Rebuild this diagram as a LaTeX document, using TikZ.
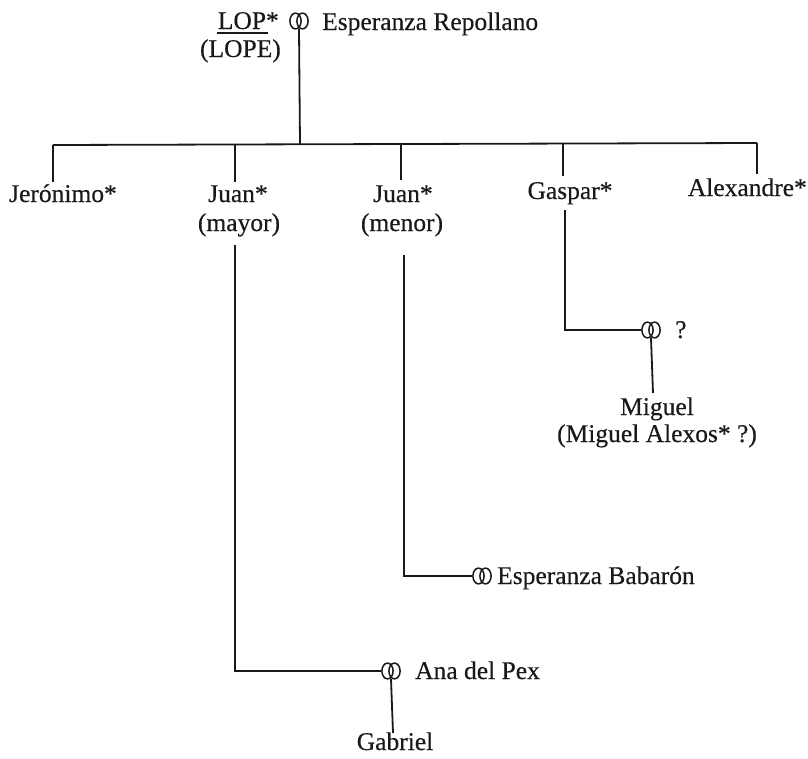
\documentclass[tikz,border=0pt]{standalone}
\usepackage{fontspec}
\setmainfont[FakeBold=0.4]{Liberation Serif}
\definecolor{ink}{gray}{0.1}
\tikzset{
  lbl/.style={inner sep=0pt, text=ink, font=\fontsize{25.5}{30}\selectfont},
  link/.style={line width=1.8pt, draw=ink},
  ringnode/.style={inner sep=0pt, minimum width=19pt, minimum height=16pt},
  rings/.pic={
    \draw[line width=1.5pt, draw=ink] (-3.5,0) ellipse [x radius=5.6, y radius=7.9];
    \draw[line width=1.5pt, draw=ink] (3.5,0) ellipse [x radius=5.6, y radius=7.9];
  }
}
\begin{document}
\begin{tikzpicture}[x=1pt,y=-1pt]
\useasboundingbox (0,0) rectangle (808,758);

% parents
\node[lbl, anchor=base east] (lop) at (279,29) {LOP*};
\node[lbl, anchor=base east] (lope) at (281,57) {(LOPE)};
\coordinate (ulA) at (217,33);
\coordinate (ulB) at (268,33);
\draw[line width=1.3pt, draw=ink] (ulA) -- (ulB);
\node[ringnode] (w0) at (299,21) {};
\pic at (w0) {rings};
\node[lbl, anchor=base west] (esp) at (322,30) {Esperanza Repollano};

% children bar
\coordinate (top) at (300,144);
\coordinate (b1) at (53,145);
\coordinate (b2) at (235,145);
\coordinate (b3) at (401,144);
\coordinate (b4) at (563,144);
\coordinate (b5) at (757,143);
\draw[link] (w0.south) -- (top);
\draw[link] (b1) -- (b5);

\node[lbl, anchor=base] (jer) at (63,202) {Jerónimo*};
\node[lbl, anchor=base] (jm) at (238,202) {Juan*};
\node[lbl, anchor=base] (jmy) at (239,231) {(mayor)};
\node[lbl, anchor=base] (jn) at (403,202) {Juan*};
\node[lbl, anchor=base] (jn2) at (402,231) {(menor)};
\node[lbl, anchor=base] (gas) at (570,199) {Gaspar*};
\node[lbl, anchor=base east] (alx) at (807,196) {Alexandre*};

\coordinate (d1) at (53,182);
\coordinate (d2) at (235,182);
\coordinate (d3) at (401,180);
\coordinate (d4) at (563,176);
\coordinate (d5) at (757,174);
\draw[link] (b1) -- (d1);
\draw[link] (b2) -- (d2);
\draw[link] (b3) -- (d3);
\draw[link] (b4) -- (d4);
\draw[link] (b5) -- (d5);

% Gaspar's line
\coordinate (g0) at (565,210);
\node[ringnode] (w1) at (651,330) {};
\pic at (w1) {rings};
\node[lbl, anchor=base west] (q) at (675,338) {?};
\draw[link] (g0) |- (w1.west);
\node[lbl, anchor=base] (mig) at (657,415) {Miguel};
\node[lbl, anchor=base] (mig2) at (657,442) {(Miguel Alexos* ?)};
\coordinate (m1) at (653,393);
\draw[link] (w1.south) -- (m1);

% Juan (menor)'s line
\coordinate (n0) at (404,255);
\node[ringnode] (w2) at (482,576) {};
\pic at (w2) {rings};
\node[lbl, anchor=base west] (bab) at (497,584) {Esperanza Babarón};
\draw[link] (n0) |- (w2.west);

% Juan (mayor)'s line
\coordinate (y0) at (235,245);
\node[ringnode] (w3) at (391,671) {};
\pic at (w3) {rings};
\node[lbl, anchor=base west] (ana) at (415,679) {Ana del Pex};
\draw[link] (y0) |- (w3.west);
\node[lbl, anchor=base] (gab) at (395,750) {Gabriel};
\coordinate (a1) at (393,733);
\draw[link] (w3.south) -- (a1);
\end{tikzpicture}
\end{document}
